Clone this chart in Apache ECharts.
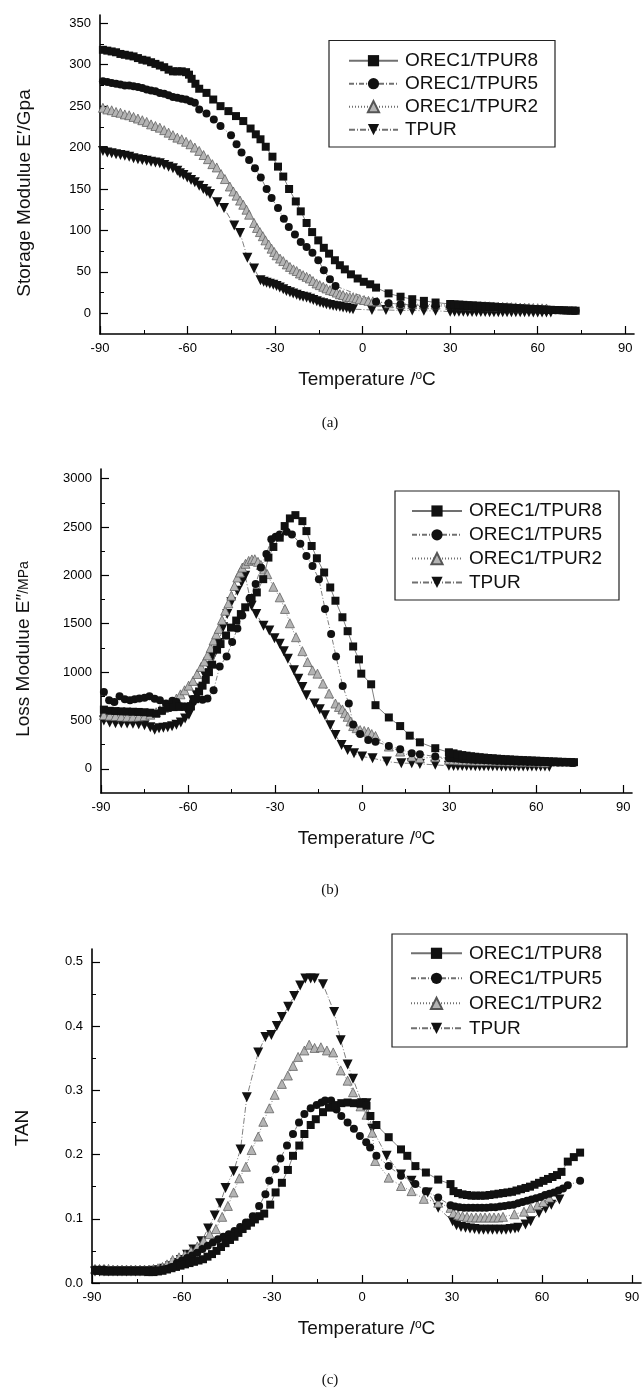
<!DOCTYPE html>
<html>
<head>
<meta charset="utf-8">
<script src="https://cdn.jsdelivr.net/npm/echarts@6/dist/echarts.min.js"></script>
<style>html,body{margin:0;padding:0;background:#fff}#c{width:644px;height:1389px}</style>
</head>
<body>
<div id="c"></div>
<script>
// ---------- tick labels ----------
const xTicks = [-90, -60, -30, 0, 30, 60, 90];
const xMinor = [-75, -45, -15, 15, 45, 75];
const aYTicks = [0, 50, 100, 150, 200, 250, 300, 350];
const aYMinor = [25, 75, 125, 175, 225, 275, 325];
const bYTicks = [0, 500, 1000, 1500, 2000, 2500, 3000];
const bYMinor = [250, 750, 1250, 1750, 2250, 2750];
const cYTicks = [0, 0.1, 0.2, 0.3, 0.4, 0.5];
const cYMinor = [0.05, 0.15, 0.25, 0.35, 0.45];
const names = ['OREC1/TPUR8', 'OREC1/TPUR5', 'OREC1/TPUR2', 'TPUR'];

// ---------- (a) storage modulus ----------
const a_orec8 = [[-89,318],[-87.5,317],[-86,316],[-84.5,315],[-83,313],[-81.5,312],[-80,311],[-78.5,310],[-77,308],[-75.5,306],[-74,305],[-72.5,303],[-71,301],[-69.5,299],[-68,297],[-66.5,294],[-65,292],[-63.5,292],[-62,292],[-60.5,291],[-59.5,288],[-58.6,283],[-57.3,277],[-56,271],[-53.5,266],[-51.2,258],[-48.7,250],[-46,244],[-43.4,238],[-40.9,232],[-38.4,223],[-36.6,216],[-35,210],[-33.2,201],[-30.9,189],[-29,177],[-27.2,165],[-25.2,150],[-22.9,135],[-21.2,123],[-19.2,109],[-17.3,98],[-15.2,88],[-13.3,79],[-11.5,72],[-9.5,64],[-7.8,58],[-6.1,53],[-4,47],[-1.7,42],[0.4,38],[2.6,35],[4.6,31],[8.9,24],[13,20],[17,17],[21,15],[25,13],[30,11.2],[31.5,10.8],[33,10.5],[34.5,10.2],[36,9.8],[37.5,9.5],[39,9.2],[40.5,8.9],[42,8.6],[43.5,8.3],[45,8],[46.5,7.6],[48,7.3],[49.5,7],[51,6.7],[52.5,6.4],[54,6.1],[55.5,5.8],[57,5.5],[58.5,5.2],[60,5],[61.5,4.7],[63,4.4],[64.5,4.2],[66,4],[67.5,3.8],[69,3.6],[70.5,3.4],[72,3.2],[73,3.1]];
const a_orec5 = [[-89,280],[-87.5,279],[-86,278],[-84.5,277],[-83,276],[-81.5,275],[-80,275],[-78.5,274],[-77,273],[-75.5,272],[-74,270],[-72.5,269],[-71,268],[-69.5,266],[-68,265],[-66.5,263],[-65,261],[-63.5,260],[-62,259],[-60.5,258],[-59,256],[-57.5,254],[-56,246],[-53.5,241],[-51,234],[-48.7,226],[-45.1,215],[-43.2,204],[-41.5,194],[-38.9,185],[-36.9,175],[-34.9,164],[-32.9,150],[-31.2,139],[-29,127],[-27,114],[-25.3,104],[-23.2,95],[-21.2,86],[-19.2,80],[-17.2,73],[-15.2,64],[-13.3,52],[-11.2,41],[-9.3,33],[4.6,14],[8.9,12],[13,11],[17,10],[21,9.5],[25,9],[30,8.6],[31.5,8.4],[33,8.2],[34.5,8],[36,7.8],[37.5,7.6],[39,7.4],[40.5,7.2],[42,7],[43.5,6.8],[45,6.6],[46.5,6.4],[48,6.2],[49.5,6],[51,5.8],[52.5,5.6],[54,5.4],[55.5,5.2],[57,5],[58.5,4.8],[60,4.6],[61.5,4.4],[63,4.2],[64.5,4],[66,3.8],[67.5,3.6],[69,3.4],[70.5,3.2],[72,3.1],[73,3]];
const a_orec2 = [[-89,248],[-87.5,246],[-86,245],[-84.5,243],[-83,242],[-81.5,240],[-80,239],[-78.5,237],[-77,235],[-75.5,233],[-74,231],[-72.5,228],[-71,226],[-69.5,224],[-68,221],[-66.5,218],[-65,215],[-63.5,212],[-62,210],[-60.5,207],[-59,204],[-57.5,200],[-56,196],[-54.5,191],[-53,186],[-51.5,180],[-50,176],[-48.5,168],[-47.2,162],[-45.5,153],[-44.3,147],[-43.2,142],[-42,136],[-40.9,131],[-39.8,125],[-38.9,119],[-37.2,109],[-36.2,103],[-35.2,98],[-34.2,93],[-33.3,88],[-32.2,83],[-31.2,78],[-30.3,74],[-29.5,70],[-28.3,66],[-27.2,63],[-26,59],[-24.9,56],[-23.7,53],[-22.6,51],[-21.5,48],[-20.4,46],[-19.2,44],[-18.1,42],[-17,39],[-15.8,36],[-14.7,34],[-13.5,32],[-12.4,30],[-11.2,28],[-10,27],[-8.9,25],[-7.8,23],[-6.7,22],[-5.5,20],[-4.4,19.5],[-3.3,19],[-2.2,18],[-1,17],[0.5,16],[2,15],[3.5,14.5],[5,14],[9,12],[13,11.5],[17,11],[21,10.8],[25,10.5],[30,10.2],[31.5,10],[33,9.8],[34.5,9.6],[36,9.4],[37.5,9.2],[39,9],[40.5,8.8],[42,8.6],[43.5,8.4],[45,8.2],[46.5,8],[48,7.8],[49.5,7.6],[51,7.4],[52.5,7.2],[54,7],[55.5,6.8],[57,6.6],[58.5,6.4],[60,6.2],[61.5,6],[63,5.8]];
const a_tpur = [[-89,196],[-87.5,194],[-86,193],[-84.5,192],[-83,191],[-81.5,190],[-80,189],[-78.5,187],[-77,186],[-75.5,185],[-74,184],[-72.5,183],[-71,182],[-69.5,181],[-68,179],[-66.5,177],[-65,175],[-63.5,172],[-62.6,169],[-61.4,167],[-60.1,164],[-58.8,161],[-57.5,158],[-56,154],[-54.6,150],[-53.4,147],[-52.3,144],[-49.8,134],[-47.5,127],[-44,106],[-42,97],[-39.5,67],[-37.2,54],[-35,40],[-33.9,38],[-32.9,37],[-31.8,35.5],[-30.6,34.5],[-29.5,33],[-28.4,31],[-27.2,29],[-26.1,27],[-24.9,25.5],[-23.8,24],[-22.6,22.5],[-21.5,21],[-20.4,20],[-19.2,19],[-18,17.5],[-16.9,16],[-15.7,14.5],[-14.6,13],[-13.5,12],[-12.4,11],[-11.2,10],[-10.1,9],[-9,8.5],[-7.8,8],[-6.7,7],[-5.5,6.4],[-4.4,5.5],[-3.3,5],[3.2,4],[8,4],[13,3.5],[17,3.5],[21,3],[25,3],[30,2],[31.5,1.9],[33,1.8],[34.5,1.8],[36,1.7],[37.5,1.6],[39,1.6],[40.5,1.5],[42,1.5],[43.5,1.4],[45,1.4],[46.5,1.3],[48,1.3],[49.5,1.2],[51,1.2],[52.5,1.2],[54,1.1],[55.5,1.1],[57,1.1],[58.5,1],[60,1],[61.5,1],[63,1],[64.5,1]];

// ---------- (b) loss modulus ----------
const b_orec8 = [[-89,612],[-87,600],[-85,597],[-83,594],[-81,592],[-79,590],[-77,588],[-75,585],[-73,580],[-71,570],[-69,600],[-67,630],[-65,638],[-63,640],[-61,642],[-59,645],[-57.5,720],[-56.2,800],[-55,860],[-53.9,920],[-52.8,1000],[-51.7,1077],[-50,1232],[-48.8,1290],[-46.9,1378],[-45.2,1460],[-43.4,1533],[-41.8,1600],[-40.3,1670],[-38.1,1766],[-36.3,1824],[-34.1,1961],[-32.3,2184],[-30.6,2294],[-28.4,2390],[-26.7,2510],[-24.9,2589],[-23,2623],[-20.6,2561],[-19.2,2458],[-17.4,2304],[-15.6,2177],[-13.1,2030],[-11,1875],[-9.2,1738],[-6.8,1567],[-5,1423],[-3.1,1265],[-1.1,1131],[-0.3,984],[3.1,874],[4.6,658],[9.2,531],[13.1,442],[16.4,343],[19.9,274],[25.2,213],[29.9,171],[31.5,160],[33,150],[34.5,142],[36,136],[37.5,130],[39,125],[40.5,120],[42,116],[43.5,112],[45,109],[46.5,105],[48,102],[49.5,99],[51,97],[52.5,94],[54,92],[55.5,90],[57,88],[58.5,86],[60,84],[61.5,82],[63,80],[64.5,78],[66,76],[67.5,74],[69,72],[70.5,71],[72,70],[73,69]];
const b_orec5 = [[-89,795],[-87.2,710],[-85.4,690],[-83.6,751],[-81.8,720],[-80,710],[-78.4,720],[-76.8,727],[-75,735],[-73.3,751],[-71.5,725],[-69.7,710],[-67.6,675],[-65.4,703],[-64,690],[-62.6,648],[-61.2,645],[-59.7,648],[-58.3,690],[-56.9,727],[-55,715],[-53.3,727],[-51.2,812],[-49.1,1059],[-46.7,1162],[-44.8,1310],[-43,1450],[-41.3,1584],[-38.8,1760],[-36.7,1910],[-34.9,2081],[-33,2220],[-31.3,2373],[-29.8,2400],[-28.4,2424],[-26,2451],[-24.2,2424],[-21.3,2328],[-19.2,2201],[-17.1,2098],[-14.9,1961],[-12.8,1653],[-10.7,1395],[-9,1162],[-6.7,857],[-4.6,675],[-3.1,459],[-0.7,360],[2.1,298],[4.6,281],[9.2,237],[13.1,202],[17.1,161],[19.9,151],[25.2,127],[29.9,110],[31.5,106],[33,103],[34.5,100],[36,97],[37.5,94],[39,92],[40.5,90],[42,88],[43.5,86],[45,84],[46.5,82],[48,80],[49.5,78],[51,77],[52.5,75],[54,74],[55.5,72],[57,71],[58.5,70],[60,69],[61.5,68],[63,67],[64.5,66],[66,65],[67.5,64],[69,63],[70.5,62],[72,61],[73,60]];
const b_orec2 = [[-89,555],[-87,550],[-85,545],[-83,540],[-81,538],[-79,538],[-77,540],[-75,545],[-73,560],[-71,585],[-69.7,607],[-68.3,630],[-66.9,658],[-65.5,690],[-64,727],[-62.6,770],[-61.2,812],[-59.8,860],[-58.3,909],[-56.9,980],[-55.5,1053],[-54.4,1110],[-53.3,1173],[-52.2,1250],[-51.2,1327],[-50.3,1390],[-49.4,1447],[-48.3,1540],[-47.2,1635],[-46.1,1710],[-45.1,1790],[-44,1890],[-43,1978],[-42.1,2030],[-41.3,2081],[-40.2,2120],[-39.1,2150],[-38,2165],[-37,2167],[-35.9,2140],[-34.9,2108],[-33.8,2060],[-32.7,2013],[-30.6,1882],[-28.4,1773],[-26.6,1653],[-24.9,1505],[-22.8,1361],[-20.6,1217],[-18.8,1104],[-17.1,1018],[-15.4,984],[-13.5,881],[-11.4,778],[-9.2,675],[-8,640],[-6.8,614],[-5.9,575],[-5,538],[-4,490],[-3.1,442],[-1.9,420],[-0.7,401],[0.7,392],[2.1,384],[3.3,360],[4.6,339],[9.2,230],[13.1,178],[17.1,127],[19.9,110],[25.2,120],[29.9,93],[31.5,90],[33,88],[34.5,87],[36,86],[37.5,85],[39,84],[40.5,83],[42,82],[43.5,81],[45,80],[46.5,79],[48,78],[49.5,77],[51,76],[52.5,75],[54,74],[55.5,73],[57,72],[58.5,71],[60,70],[61.5,68],[63,66]];
const b_tpur = [[-89,500],[-87,480],[-85,470],[-83,470],[-81,468],[-79,465],[-77,460],[-75,450],[-73,430],[-71.5,405],[-70,420],[-68.5,425],[-67,430],[-65.5,440],[-64,455],[-62.5,480],[-61,520],[-59.7,560],[-58.3,710],[-57,760],[-55.5,830],[-54.2,967],[-52.8,1060],[-51.4,1162],[-49.6,1300],[-47.9,1464],[-46.5,1600],[-45.1,1721],[-43,1841],[-41.5,1930],[-40.3,1995],[-38.1,1687],[-36.5,1600],[-34,1480],[-32,1430],[-30.2,1350],[-28.4,1293],[-27,1215],[-25.6,1138],[-23.5,1018],[-22,930],[-20.6,847],[-19.2,761],[-16.4,675],[-14.6,615],[-12.8,555],[-11,450],[-9.2,350],[-7.1,247],[-5,195],[-2.8,161],[0,127],[3.6,110],[8.5,75],[13.5,58],[17.1,58],[19.9,51],[25.2,41],[29.9,31],[31.5,30],[33,29],[34.5,29],[36,28],[37.5,28],[39,27],[40.5,27],[42,27],[43.5,26],[45,26],[46.5,26],[48,25],[49.5,25],[51,25],[52.5,25],[54,24],[55.5,24],[57,24],[58.5,24],[60,23],[61.5,23],[63,23],[64.5,22]];

// ---------- (c) loss factor ----------
const c_orec8 = [[-89,0.019],[-87.5,0.019],[-86,0.018],[-84.5,0.018],[-83,0.018],[-81.5,0.018],[-80,0.018],[-78.5,0.018],[-77,0.018],[-75.5,0.018],[-74,0.018],[-72.5,0.018],[-71,0.017],[-69.5,0.017],[-68,0.018],[-66.5,0.019],[-65,0.021],[-63.5,0.023],[-62,0.025],[-60.5,0.027],[-59,0.029],[-57.5,0.031],[-56,0.033],[-54.5,0.035],[-53,0.037],[-51.5,0.041],[-50,0.045],[-48.5,0.05],[-47,0.056],[-45.5,0.062],[-44,0.067],[-42.5,0.072],[-41.2,0.078],[-39.8,0.084],[-38.4,0.089],[-37,0.094],[-35.7,0.099],[-34.1,0.104],[-32.6,0.108],[-30.6,0.122],[-28.8,0.141],[-26.7,0.156],[-24.7,0.176],[-23,0.198],[-20.9,0.214],[-19.2,0.232],[-17.1,0.246],[-15.4,0.255],[-13,0.266],[-11,0.273],[-8.9,0.277],[-6.9,0.28],[-4.8,0.281],[-2.7,0.28],[-0.5,0.279],[1.5,0.276],[2.8,0.26],[4.8,0.246],[8.9,0.227],[13,0.208],[15.1,0.198],[17.8,0.182],[21.3,0.172],[25.4,0.161],[29.5,0.154],[30.5,0.143],[32,0.140],[33.5,0.138],[35,0.137],[36.5,0.136],[38,0.136],[39.5,0.136],[41,0.136],[42.5,0.137],[44,0.138],[45.5,0.139],[47,0.140],[48.5,0.141],[50,0.142],[51.5,0.144],[53,0.146],[54.5,0.148],[56,0.150],[57.5,0.153],[59,0.156],[60.5,0.159],[62,0.162],[63.5,0.165],[65,0.168],[66.5,0.173],[68.6,0.189],[70.6,0.196],[72.7,0.203]];
const c_orec5 = [[-89,0.021],[-87.5,0.021],[-86,0.021],[-84.5,0.02],[-83,0.02],[-81.5,0.02],[-80,0.02],[-78.5,0.02],[-77,0.02],[-75.5,0.02],[-74,0.02],[-72.5,0.02],[-71,0.02],[-69.5,0.02],[-68,0.02],[-66.5,0.021],[-65,0.022],[-63.5,0.025],[-61.7,0.031],[-60,0.035],[-58.3,0.039],[-56.6,0.043],[-54.9,0.047],[-53.2,0.053],[-51.4,0.058],[-49.7,0.063],[-48,0.068],[-46.2,0.072],[-44.4,0.076],[-42.5,0.081],[-40.6,0.087],[-38.7,0.094],[-36.4,0.104],[-34.3,0.12],[-32.2,0.138],[-30.9,0.159],[-28.8,0.177],[-27.2,0.194],[-25,0.214],[-23,0.232],[-21,0.25],[-19.2,0.263],[-17.1,0.272],[-15.1,0.277],[-13.5,0.281],[-12.3,0.284],[-10.3,0.284],[-8.5,0.27],[-6.9,0.26],[-4.8,0.25],[-2.7,0.24],[-0.7,0.229],[1.4,0.219],[2.7,0.211],[4.8,0.198],[8.9,0.182],[13,0.167],[17.8,0.154],[21.3,0.143],[25.4,0.133],[29.5,0.121],[31,0.119],[32.5,0.118],[34,0.117],[35.5,0.117],[37,0.117],[38.5,0.117],[40,0.117],[41.5,0.117],[43,0.118],[44.5,0.118],[46,0.119],[47.5,0.12],[49,0.121],[50.5,0.122],[52,0.124],[53.5,0.126],[55,0.128],[56.5,0.130],[58,0.132],[59.5,0.134],[61,0.137],[62.5,0.139],[64,0.141],[65.5,0.144],[67,0.147],[68.6,0.152],[72.7,0.159]];
const c_orec2 = [[-89,0.022],[-87.5,0.022],[-86,0.022],[-84.5,0.022],[-83,0.021],[-81.5,0.021],[-80,0.021],[-78.5,0.021],[-77,0.021],[-75.5,0.021],[-74,0.021],[-72.5,0.021],[-71,0.021],[-69.5,0.022],[-68,0.023],[-66.5,0.025],[-65,0.029],[-63.1,0.036],[-61,0.04],[-59,0.044],[-57,0.05],[-54.9,0.057],[-52.8,0.066],[-50.8,0.076],[-48.7,0.084],[-46.6,0.103],[-44.7,0.12],[-42.8,0.141],[-40.9,0.163],[-38.7,0.181],[-36.8,0.207],[-34.6,0.228],[-32.9,0.251],[-30.9,0.272],[-29.1,0.293],[-26.7,0.31],[-24.7,0.323],[-23,0.338],[-21.3,0.352],[-19.2,0.362],[-17.6,0.371],[-15.8,0.366],[-13.7,0.367],[-11.7,0.362],[-9.6,0.359],[-7.1,0.331],[-4.8,0.315],[-3,0.297],[-0.5,0.275],[1.5,0.262],[3.4,0.234],[4.4,0.19],[8.9,0.164],[13,0.151],[16.5,0.143],[20.6,0.131],[25.4,0.125],[29.5,0.117],[30.5,0.109],[32,0.106],[33.5,0.104],[35,0.103],[36.5,0.102],[38,0.102],[39.5,0.102],[41,0.102],[42.5,0.102],[44,0.102],[45.5,0.102],[47,0.103],[50.8,0.107],[54,0.111],[56.2,0.117],[58.5,0.121],[60.4,0.126],[62.4,0.133]];
const c_tpur = [[-89,0.018],[-87.5,0.018],[-86,0.018],[-84.5,0.018],[-83,0.018],[-81.5,0.018],[-80,0.018],[-78.5,0.018],[-77,0.018],[-75.5,0.018],[-74,0.018],[-72.5,0.018],[-71,0.018],[-69.5,0.019],[-68,0.02],[-66,0.022],[-64,0.026],[-62.2,0.031],[-60.4,0.036],[-58.3,0.044],[-56.2,0.052],[-53.5,0.065],[-51.3,0.085],[-49.1,0.105],[-47.3,0.124],[-45.5,0.148],[-42.8,0.174],[-40.5,0.208],[-38.4,0.289],[-34.6,0.359],[-32.2,0.383],[-30.2,0.386],[-28.4,0.4],[-26.7,0.414],[-24.6,0.43],[-22.6,0.447],[-20.6,0.463],[-18.9,0.474],[-17.1,0.474],[-15.8,0.474],[-13,0.465],[-9.3,0.422],[-7.1,0.378],[-4.8,0.34],[-3,0.318],[0,0.28],[1.5,0.28],[3.4,0.24],[8.2,0.198],[13,0.169],[16.5,0.159],[21.9,0.141],[25.4,0.117],[30.2,0.096],[31.5,0.09],[33,0.087],[34.5,0.086],[36,0.085],[37.5,0.084],[39,0.083],[40.5,0.083],[42,0.083],[43.5,0.083],[45,0.083],[46.5,0.083],[48,0.083],[49.5,0.084],[51,0.085],[52.1,0.086],[54.5,0.091],[56.2,0.096],[59,0.109],[61.2,0.116],[63.1,0.122],[65.8,0.13]];

// ---------- build ----------
const FONT = 'Liberation Sans, Arial, sans-serif';
const grids = [
  {left: 100, top: 15, width: 534, height: 319},
  {left: 101, top: 469, width: 531, height: 324},
  {left: 92, top: 949, width: 549, height: 334}
];
const yCfg = [
  {min: -25, max: 360, ticks: aYTicks, minor: aYMinor, fmt: v => String(v)},
  {min: -250, max: 3100, ticks: bYTicks, minor: bYMinor, fmt: v => String(v)},
  {min: 0, max: 0.52, ticks: cYTicks, minor: cYMinor, fmt: v => v.toFixed(1)}
];
const xAxis = [], yAxis = [];
grids.forEach((g, i) => {
  xAxis.push({
    type: 'value', gridIndex: i, min: -90, max: 93, position: 'bottom',
    axisLine: {show: true, onZero: false, lineStyle: {color: '#000', width: 1.6}},
    axisTick: {show: true, inside: true, length: 8, customValues: xTicks, lineStyle: {color: '#000', width: 1.2}},
    axisLabel: {show: true, customValues: xTicks, margin: 8, color: '#000', fontSize: 13, fontFamily: FONT},
    splitLine: {show: false},
    name: '{t|Temperature /}{s|o}{t|C}', nameLocation: 'middle', nameGap: 36,
    nameTextStyle: {rich: {t: {fontSize: 19, fontFamily: FONT, color: '#111'}, s: {fontSize: 12, fontFamily: FONT, color: '#111', verticalAlign: 'top', padding: [0, 0, 8, 0]}}}
  });
  xAxis.push({
    type: 'value', gridIndex: i, min: -90, max: 93, position: 'bottom',
    axisLine: {show: false, onZero: false},
    axisTick: {show: true, inside: true, length: 4, customValues: xMinor, lineStyle: {color: '#000', width: 1}},
    axisLabel: {show: false}, splitLine: {show: false}
  });
  const c = yCfg[i];
  yAxis.push({
    type: 'value', gridIndex: i, min: c.min, max: c.max, position: 'left',
    axisLine: {show: true, onZero: false, lineStyle: {color: '#000', width: 1.6}},
    axisTick: {show: true, inside: true, length: 8, customValues: c.ticks, lineStyle: {color: '#000', width: 1.2}},
    axisLabel: {show: true, customValues: c.ticks, margin: 9, color: '#000', fontSize: 13, fontFamily: FONT, formatter: c.fmt},
    splitLine: {show: false}
  });
  yAxis.push({
    type: 'value', gridIndex: i, min: c.min, max: c.max, position: 'left',
    axisLine: {show: false, onZero: false},
    axisTick: {show: true, inside: true, length: 4, customValues: c.minor, lineStyle: {color: '#000', width: 1}},
    axisLabel: {show: false}, splitLine: {show: false}
  });
});

const styles = [
  {symbol: 'rect', size: 8, rotate: 0, color: '#111', border: '#111', line: {type: 'solid'}},
  {symbol: 'circle', size: 8, rotate: 0, color: '#111', border: '#111', line: {type: [5, 2, 1, 2]}},
  {symbol: 'triangle', size: 9, rotate: 0, color: '#b4b4b4', border: '#555', line: {type: [1, 2]}},
  {symbol: 'triangle', size: 10, rotate: 180, color: '#111', border: '#111', line: {type: [6, 2, 1, 2]}}
];
const dataSets = [
  [a_orec8, a_orec5, a_orec2, a_tpur],
  [b_orec8, b_orec5, b_orec2, b_tpur],
  [c_orec8, c_orec5, c_orec2, c_tpur]
];
const series = [];
dataSets.forEach((set, gi) => {
  set.forEach((d, si) => {
    const s = styles[si];
    series.push({
      type: 'line', name: names[si], data: d,
      xAxisIndex: gi * 2, yAxisIndex: gi * 2,
      symbol: s.symbol, symbolSize: s.size, symbolRotate: s.rotate,
      showAllSymbol: true, animation: false, silent: true,
      itemStyle: {color: s.color, borderColor: s.border, borderWidth: si === 2 ? 0.7 : 0},
      lineStyle: {color: '#707070', width: 0.9, type: s.line.type},
      z: 10 - si
    });
  });
});

const legendBoxes = [
  {x: 329, y: 40.5, w: 226, h: 106.5, left: 348, top: 51.2, iw: 49, gap: 4},
  {x: 395, y: 491, w: 224, h: 109, left: 411, top: 501.5, iw: 50, gap: 4.8},
  {x: 392, y: 934, w: 235, h: 113, left: 410, top: 943.8, iw: 51, gap: 6}
];
const legend = legendBoxes.map(b => ({
  data: names, orient: 'vertical', left: b.left, top: b.top, padding: 0,
  itemWidth: b.iw, itemHeight: 14, itemGap: b.gap, selectedMode: false,
  textStyle: {fontSize: 19, fontFamily: FONT, color: '#111', padding: [0, 0, 0, 2]}
}));

const graphic = [];
legendBoxes.forEach(b => graphic.push({type: 'rect', silent: true, shape: {x: b.x, y: b.y, width: b.w, height: b.h}, style: {fill: 'none', stroke: '#222', lineWidth: 1.2}, z: 1}));
graphic.push({type: 'text', x: 25, y: 193, rotation: Math.PI / 2, style: {text: 'Storage Modulue E\u2032/Gpa', font: '19px ' + FONT, fill: '#111', align: 'center', verticalAlign: 'middle'}});
graphic.push({type: 'text', x: 24, y: 649, rotation: Math.PI / 2, style: {text: '{a|Loss Modulue E\u2033}{b|/MPa}', rich: {a: {fontSize: 19, fontFamily: FONT, fill: '#111'}, b: {fontSize: 14, fontFamily: FONT, fill: '#111'}}, align: 'center', verticalAlign: 'middle'}});
graphic.push({type: 'text', x: 23, y: 1128, rotation: Math.PI / 2, style: {text: 'TAN', font: '19px ' + FONT, fill: '#111', align: 'center', verticalAlign: 'middle'}});
[['(a)', 423], ['(b)', 890], ['(c)', 1380]].forEach(([t, y]) => graphic.push({type: 'text', x: 330, y: y, style: {text: t, font: '15px Liberation Serif, Times New Roman, serif', fill: '#111', align: 'center', verticalAlign: 'middle'}}));

const chart = echarts.init(document.getElementById('c'), null, {renderer: 'canvas'});
chart.setOption({
  animation: false, backgroundColor: '#fff',
  grid: grids, xAxis: xAxis, yAxis: yAxis, series: series, legend: legend, graphic: graphic
});
</script>
</body>
</html>
